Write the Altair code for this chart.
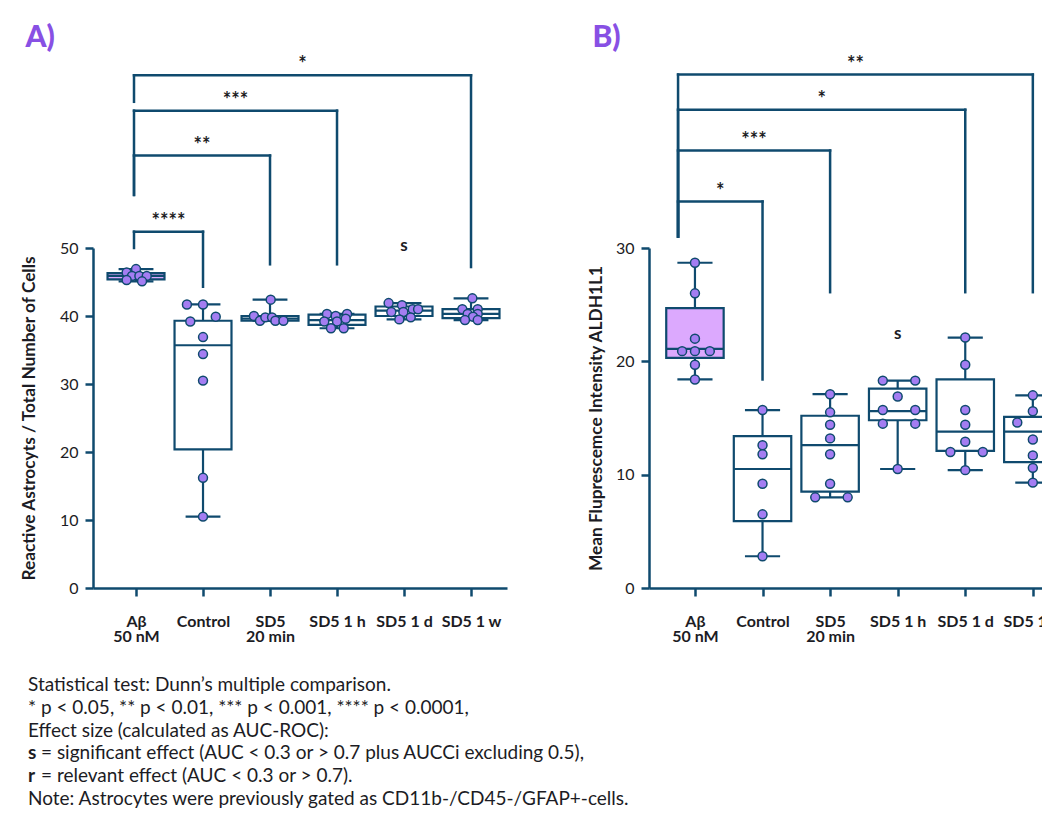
import altair as alt
import pandas as pd

NAVY = "#0F4A6E"
POINT = "#A47DF2"
BOXFILL = "#DCA9FE"
PURPLE = "#8850E4"
TEXT = "#1C1C24"
FONT = "Lato"

categories = ["Aβ\n50 nM", "Control", "SD5\n20 min", "SD5 1 h", "SD5 1 d", "SD5 1 w"]

# ---------------- Panel A ----------------
a_values = [
    [46.4, 46.9, 45.9, 45.9, 45.9, 45.3, 45.1],
    [41.7, 41.7, 39.9, 39.2, 36.9, 34.4, 30.5, 16.2, 10.5],
    [42.4, 40.0, 39.3, 39.8, 39.8, 39.3, 39.3],
    [40.3, 40.0, 40.3, 39.2, 39.2, 39.6, 38.2, 38.2],
    [41.9, 41.6, 41.0, 41.0, 40.6, 40.6, 39.5, 39.8],
    [42.6, 41.0, 41.0, 40.3, 40.3, 39.9, 39.4, 39.4],
]
a_jitter = [
    [-0.14, 0.0, -0.06, 0.05, 0.16, -0.14, 0.09],
    [-0.24, 0.0, 0.19, -0.19, 0.0, 0.0, 0.0, 0.0, 0.0],
    [0.01, -0.24, -0.15, -0.07, 0.03, 0.08, 0.20],
    [-0.15, -0.02, 0.15, -0.19, 0.0, 0.13, -0.09, 0.10],
    [-0.23, -0.03, 0.13, 0.21, -0.19, -0.01, -0.07, 0.10],
    [0.02, -0.13, 0.10, -0.05, 0.10, 0.03, -0.09, 0.10],
]
a_min = [45.1, 10.5, 39.3, 38.2, 39.5, 39.4]
a_q1 = [45.4, 20.4, 39.3, 38.7, 40.0, 39.7]
a_median = [45.9, 35.7, 39.6, 39.4, 40.8, 40.3]
a_q3 = [46.3, 39.3, 40.0, 40.2, 41.4, 41.0]
a_max = [46.9, 41.7, 42.4, 40.3, 41.9, 42.6]
a_comp_target = ["Control", "SD5\n20 min", "SD5 1 h", "SD5 1 w"]
a_comp_stars = ["****", "**", "***", "*"]
a_comp_level = [52.4, 63.6, 70.2, 75.4]
a_comp_left_end = [50.0, 57.8, 57.8, 71.5]
a_comp_right_end = [44.3, 47.6, 47.6, 47.2]
a_effect_group = ["SD5 1 d"]
a_effect_label = ["s"]
a_effect_y = [49.6]

# ---------------- Panel B ----------------
b_values = [
    [28.7, 26.0, 22.0, 20.9, 20.9, 20.9, 19.7, 18.4],
    [15.7, 12.6, 11.8, 9.2, 6.5, 2.8],
    [17.1, 15.5, 14.4, 13.2, 11.8, 9.2, 8.0, 8.0],
    [18.3, 18.3, 16.9, 15.7, 15.7, 14.5, 14.5, 10.5],
    [22.1, 19.7, 15.7, 14.4, 12.9, 12.0, 12.0, 10.4],
    [17.0, 15.6, 15.3, 14.6, 13.1, 11.7, 10.6, 9.3],
]
b_jitter = [
    [0.0, 0.0, 0.0, -0.19, 0.0, 0.22, 0.0, 0.0],
    [0.0, 0.0, 0.0, 0.0, 0.0, 0.0],
    [0.0, 0.0, 0.0, 0.0, 0.0, 0.0, -0.22, 0.26],
    [-0.22, 0.26, 0.0, -0.22, 0.26, -0.22, 0.26, 0.0],
    [0.0, 0.0, 0.0, 0.0, 0.0, -0.22, 0.26, 0.0],
    [0.0, 0.0, 0.23, -0.23, 0.0, 0.0, 0.0, 0.0],
]
b_min = [18.4, 2.8, 8.0, 10.5, 10.4, 9.3]
b_q1 = [20.3, 5.9, 8.5, 14.8, 12.1, 11.1]
b_median = [21.1, 10.5, 12.6, 15.6, 13.8, 13.8]
b_q3 = [24.7, 13.4, 15.2, 17.6, 18.4, 15.1]
b_max = [28.7, 15.7, 17.1, 18.3, 22.1, 17.0]
b_comp_target = ["Control", "SD5\n20 min", "SD5 1 d", "SD5 1 w"]
b_comp_stars = ["*", "***", "*", "**"]
b_comp_level = [34.1, 38.6, 42.2, 45.3]
b_comp_left_end = [31.0, 31.0, 31.0, 31.0]
b_comp_right_end = [18.4, 26.1, 26.1, 26.1]
b_effect_group = ["SD5 1 h"]
b_effect_label = ["s"]
b_effect_y = [22.0]

# ---------------- Footnote ----------------
note_bold = ["", "", "", "s", "r", ""]
note_text = [
    "Statistical test: Dunn’s multiple comparison.",
    "* p < 0.05, ** p < 0.01, *** p < 0.001, **** p < 0.0001,",
    "Effect size (calculated as AUC-ROC):",
    "= significant effect (AUC < 0.3 or > 0.7 plus AUCCi excluding 0.5),",
    "= relevant effect (AUC < 0.3 or > 0.7).",
    "Note: Astrocytes were previously gated as CD11b-/CD45-/GFAP+-cells.",
]

label_lines = [c.split("\n") for c in categories]
label_expr = "[" + ",".join(
    "[" + ",".join("'" + s + "'" for s in lines) + "]" for lines in label_lines
) + "][datum.value]"


def make_panel(values, jitter, mins, q1s, meds, q3s, maxs,
               targets, stars, levels, left_ends, right_ends,
               eff_groups, eff_labels, eff_y,
               ymax, yticks, ytitle, width, xdomain, left_off,
               title_text, title_pad):
    pts = pd.DataFrame([
        {"pos": i + j, "value": v}
        for i, (vals, jits) in enumerate(zip(values, jitter))
        for v, j in zip(vals, jits)
    ])
    box = pd.DataFrame({"group": categories, "pos": list(range(len(categories))),
                        "min": mins, "q1": q1s, "median": meds, "q3": q3s, "max": maxs})
    box["lo"] = box["pos"] - 0.425
    box["hi"] = box["pos"] + 0.425
    box["clo"] = box["pos"] - 0.26
    box["chi"] = box["pos"] + 0.26
    br = pd.DataFrame({"stars": stars, "level": levels,
                       "left_end": left_ends, "right_end": right_ends})
    br["tpos"] = [categories.index(t) for t in targets]
    br["left"] = left_off
    br["mid"] = (br["left"] + br["tpos"]) / 2
    eff = pd.DataFrame({"pos": [categories.index(g) for g in eff_groups],
                        "label": eff_labels, "y": eff_y})

    x_scale = alt.Scale(domain=xdomain, nice=False, zero=False)
    y_scale = alt.Scale(domain=[0, ymax], nice=False, zero=True)
    x_axis = alt.Axis(values=list(range(len(categories))), labelExpr=label_expr, title=None,
                      grid=False, labelFontWeight="bold", labelFontSize=16, labelPadding=17,
                      labelLineHeight=15, labelAngle=0, labelFlush=False, tickSize=8,
                      labelOverlap=False)
    y_axis = alt.Axis(values=yticks, title=ytitle, grid=False, tickSize=8, labelFontSize=16,
                      labelPadding=7, labelFlush=False, titleFontSize=17.3,
                      titleFontWeight="bold", titlePadding=title_pad)

    def X(f):
        return alt.X(f"{f}:Q", scale=x_scale, axis=x_axis)

    def Y(f):
        return alt.Y(f"{f}:Q", scale=y_scale, axis=y_axis)

    bb = alt.Chart(box)
    whisk = bb.mark_rule(stroke=NAVY, strokeWidth=2.2).encode(x=X("pos"), y=Y("min"), y2="max")
    rect = bb.mark_rect(stroke=NAVY, strokeWidth=2.2).encode(
        x=X("lo"), x2="hi", y=Y("q1"), y2="q3",
        fill=alt.condition(alt.datum.pos == 0, alt.value(BOXFILL), alt.value("white")))
    med = bb.mark_rule(stroke=NAVY, strokeWidth=2.2).encode(x=X("lo"), x2="hi", y=Y("median"))
    cap_lo = bb.mark_rule(stroke=NAVY, strokeWidth=2.2).encode(x=X("clo"), x2="chi", y=Y("min"))
    cap_hi = bb.mark_rule(stroke=NAVY, strokeWidth=2.2).encode(x=X("clo"), x2="chi", y=Y("max"))
    dots = alt.Chart(pts).mark_circle(size=80, fill=POINT, stroke=NAVY, strokeWidth=1.5,
                                      opacity=1).encode(x=X("pos"), y=Y("value"))
    bc = alt.Chart(br)
    hline = bc.mark_rule(stroke=NAVY, strokeWidth=2.5, strokeCap="square").encode(
        x=X("left"), x2="tpos", y=Y("level"))
    lleg = bc.mark_rule(stroke=NAVY, strokeWidth=2.5, strokeCap="square").encode(
        x=X("left"), y=Y("level"), y2="left_end")
    rleg = bc.mark_rule(stroke=NAVY, strokeWidth=2.5, strokeCap="square").encode(
        x=X("tpos"), y=Y("level"), y2="right_end")
    star = bc.mark_text(baseline="bottom", fontSize=20, fontWeight="bold", font=FONT,
                        color=TEXT).encode(x=X("mid"), y=Y("level"), text="stars")
    efft = alt.Chart(eff).mark_text(baseline="alphabetic", fontSize=17, fontWeight="bold",
                                    font=FONT, color=TEXT).encode(
        x=X("pos"), y=Y("y"), text="label")

    return alt.layer(whisk, rect, med, cap_lo, cap_hi, dots, hline, lleg, rleg, star, efft).properties(
        width=width, height=340,
        title=alt.TitleParams(title_text, anchor="start", frame="bounds", fontSize=30,
                              fontWeight=900, color=PURPLE, font=FONT, offset=2, dx=5))


panel_a = make_panel(a_values, a_jitter, a_min, a_q1, a_median, a_q3, a_max,
                     a_comp_target, a_comp_stars, a_comp_level, a_comp_left_end, a_comp_right_end,
                     a_effect_group, a_effect_label, a_effect_y,
                     50, [0, 10, 20, 30, 40, 50], "Reactive Astrocyts / Total Number of Cells",
                     414, [-0.642, 5.537], -0.03, "A)", 21)
panel_b = make_panel(b_values, b_jitter, b_min, b_q1, b_median, b_q3, b_max,
                     b_comp_target, b_comp_stars, b_comp_level, b_comp_left_end, b_comp_right_end,
                     b_effect_group, b_effect_label, b_effect_y,
                     30, [0, 10, 20, 30], "Mean Fluprescemce Intensity ALDH1L1",
                     421, [-0.68, 5.55], -0.25, "B)", 10)

notes_df = pd.DataFrame({"line": list(range(len(note_text))), "bold": note_bold, "text": note_text})
nb = alt.Chart(notes_df).encode(
    y=alt.Y("line:O", axis=None, scale=alt.Scale(paddingInner=0, paddingOuter=0)))
plain = nb.transform_filter("datum.bold == ''").mark_text(
    align="left", baseline="middle", fontSize=19, font=FONT, color=TEXT, dx=-65).encode(
    x=alt.value(0), text="text:N")
suffix = nb.transform_filter("datum.bold != ''").mark_text(
    align="left", baseline="middle", fontSize=19, font=FONT, color=TEXT, dx=-52).encode(
    x=alt.value(0), text="text:N")
prefix = nb.transform_filter("datum.bold != ''").mark_text(
    align="left", baseline="middle", fontSize=19, font=FONT, color=TEXT, dx=-65,
    fontWeight="bold").encode(x=alt.value(0), text="bold:N")
notes = alt.layer(plain, suffix, prefix).properties(width=560, height=136)

chart = alt.vconcat(
    alt.hconcat(panel_a, panel_b, spacing=80), notes, spacing=30
).properties(
    autosize=alt.AutoSizeParams(type="none"),
    padding={"left": 85, "top": 240, "right": 949, "bottom": 563},
    background="white"
).configure_axis(
    domainColor=NAVY, domainWidth=2.5, tickColor=NAVY, tickWidth=2.5,
    labelFont=FONT, titleFont=FONT, labelColor=TEXT, titleColor=TEXT
).configure_view(stroke=None)

chart.save("out.html", embed_options={"renderer": "svg", "actions": False})
